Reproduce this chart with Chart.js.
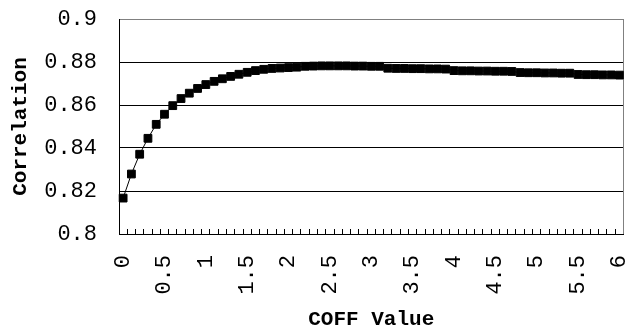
<!DOCTYPE html>
<html>
<head>
<meta charset="utf-8">
<script src="https://cdn.jsdelivr.net/npm/chart.js@4.4.1/dist/chart.umd.min.js"></script>
<style>
  html, body { margin: 0; padding: 0; background: #fff; }
  #wrap { width: 630px; height: 330px; }
</style>
</head>
<body>
<div id="wrap"><canvas id="chartCoff"></canvas></div>
<script>
// COFF value categories (0 .. 6 by 0.1)
const coffValues = [
  "0", "0.1", "0.2", "0.3", "0.4", "0.5", "0.6", "0.7", "0.8", "0.9",
  "1", "1.1", "1.2", "1.3", "1.4", "1.5", "1.6", "1.7", "1.8", "1.9",
  "2", "2.1", "2.2", "2.3", "2.4", "2.5", "2.6", "2.7", "2.8", "2.9",
  "3", "3.1", "3.2", "3.3", "3.4", "3.5", "3.6", "3.7", "3.8", "3.9",
  "4", "4.1", "4.2", "4.3", "4.4", "4.5", "4.6", "4.7", "4.8", "4.9",
  "5", "5.1", "5.2", "5.3", "5.4", "5.5", "5.6", "5.7", "5.8", "5.9",
  "6"
];

// correlation
const correlation = [
  0.8167, 0.8279, 0.8371, 0.8445, 0.8510, 0.8557, 0.8597, 0.8630, 0.8655, 0.8677,
  0.8695, 0.8710, 0.8722, 0.8733, 0.8743, 0.8752, 0.8760, 0.8766, 0.8770, 0.8772,
  0.8774, 0.8776, 0.8780, 0.8781, 0.8782, 0.8782, 0.8782, 0.8782, 0.8781, 0.8781,
  0.8780, 0.8780, 0.8771, 0.8770, 0.8770, 0.8769, 0.8769, 0.8768, 0.8768, 0.8767,
  0.8760, 0.8759, 0.8759, 0.8758, 0.8758, 0.8757, 0.8757, 0.8756, 0.8751, 0.8750,
  0.8750, 0.8749, 0.8749, 0.8748, 0.8748, 0.8742, 0.8741, 0.8741, 0.8740, 0.8740,
  0.8739
];

const xTickLabels = ["0", "0.5", "1", "1.5", "2", "2.5", "3", "3.5", "4", "4.5", "5", "5.5", "6"];
const yMin = 0.8;
const yMax = 0.9;
const yStep = 0.02;

Chart.defaults.color = "#000";

const chartCoffElement = document.querySelector("#chartCoff");

// gray right edge of the plot area, like the excel frame
const plotFrame = {
  id: "plotFrame",
  beforeDatasetsDraw(chart) {
    const { ctx, chartArea } = chart;
    const x = Math.round(chartArea.right) - 0.5;
    ctx.save();
    ctx.strokeStyle = "#808080";
    ctx.lineWidth = 1;
    ctx.beginPath();
    ctx.moveTo(x, chartArea.top);
    ctx.lineTo(x, chartArea.bottom);
    ctx.stroke();
    ctx.restore();
  },
};

const chartCoff = new Chart(chartCoffElement, {
  type: "line",
  data: {
    labels: coffValues,
    datasets: [
      {
        label: "Correlation",
        data: correlation,
        borderColor: "#000",
        backgroundColor: "#000",
        borderWidth: 1,
        pointStyle: "rect",
        pointRadius: 5.5,
        pointBorderWidth: 1,
        pointBackgroundColor: "#000",
        pointBorderColor: "#000",
        tension: 0,
        clip: false,
      },
    ],
  },
  plugins: [plotFrame],
  options: {
    responsive: true,
    maintainAspectRatio: false,
    animation: false,
    devicePixelRatio: 1,
    layout: {
      padding: { top: 19, right: 2, bottom: 0, left: 0 },
    },
    plugins: {
      legend: { display: false },
      tooltip: { enabled: false },
    },
    scales: {
      x: {
        offset: true,
        afterFit: (scale) => {
          scale.paddingLeft = 0;
          scale.paddingRight = 0;
          scale.height = 96;
        },
        grid: {
          offset: true,
          drawOnChartArea: false,
          tickLength: -5,
          tickColor: "#000",
          color: "#000",
        },
        border: { color: "#000", width: 1 },
        ticks: {
          autoSkip: false,
          minRotation: 90,
          maxRotation: 90,
          padding: 26,
          font: { family: "Liberation Mono", size: 22, lineHeight: 1.2 },
          callback: function (value, index) {
            const lbl = coffValues[index];
            return xTickLabels.includes(lbl) ? lbl : "";
          },
        },
        title: {
          display: true,
          text: "COFF Value",
          font: { family: "Liberation Mono", size: 21, weight: "bold", lineHeight: 1 },
          padding: { top: 14, bottom: 0 },
        },
      },
      y: {
        min: yMin,
        max: yMax,
        afterFit: (scale) => {
          scale.paddingTop = 0;
          scale.paddingBottom = 0;
          scale.width = 119;
        },
        grid: {
          drawTicks: false,
          color: (ctx) =>
            ctx.tick && Math.abs(ctx.tick.value - yMax) < 1e-9 ? "#808080" : "#000",
        },
        border: { color: "#000", width: 1 },
        ticks: {
          stepSize: yStep,
          padding: 22,
          font: { family: "Liberation Mono", size: 22, lineHeight: 1.2 },
          callback: (value) => Number(value.toFixed(2)).toString(),
        },
        title: {
          display: true,
          text: "Correlation",
          font: { family: "Liberation Mono", size: 21, weight: "bold", lineHeight: 1.2 },
          padding: { top: 8, bottom: 10 },
        },
      },
    },
  },
});
</script>
</body>
</html>
